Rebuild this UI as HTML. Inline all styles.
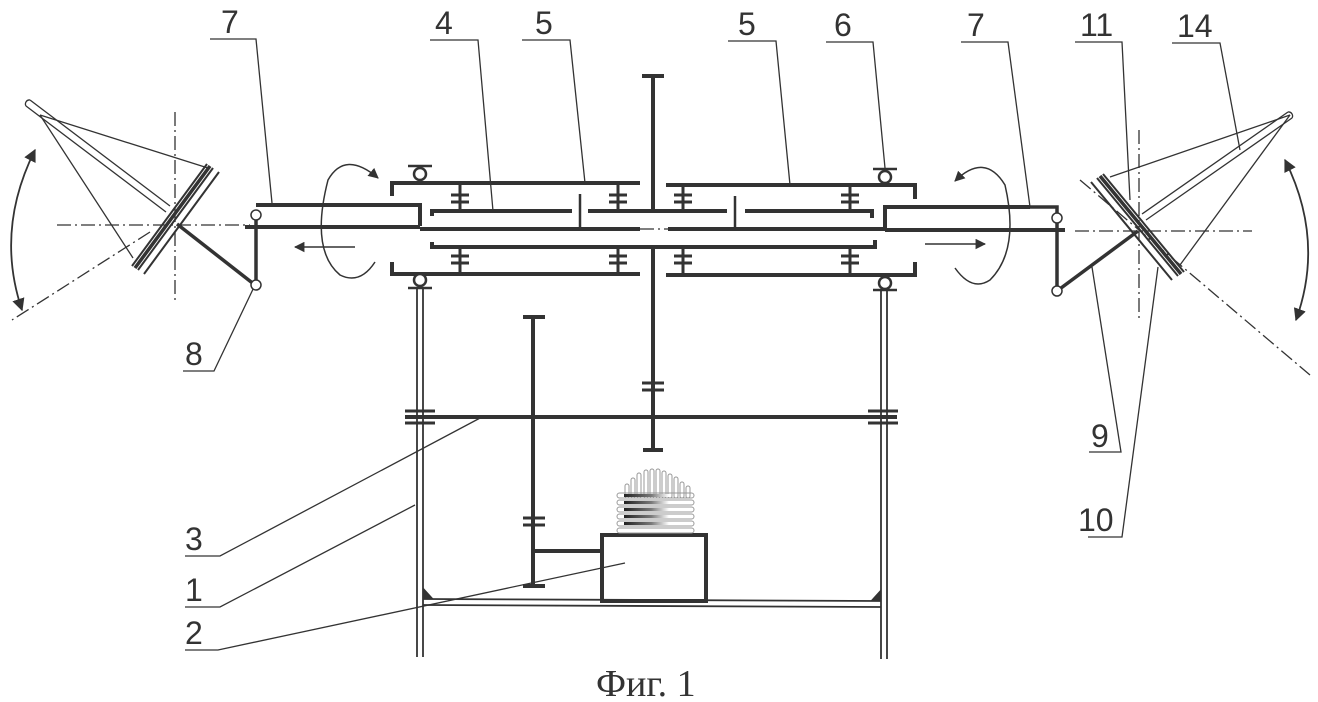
<!DOCTYPE html>
<html><head><meta charset="utf-8"><style>
html,body{margin:0;padding:0;background:#fff;}
svg{display:block}
text{font-family:"Liberation Sans",sans-serif;fill:#333;font-size:32px}
</style></head><body>
<svg width="1318" height="702" viewBox="0 0 1318 702" xmlns="http://www.w3.org/2000/svg">
<defs>
<marker id="ah" viewBox="0 0 10 10" refX="9" refY="5" markerWidth="7" markerHeight="7" orient="auto-start-reverse"><path d="M0,0 L10,5 L0,10 z" fill="#333"/></marker>
<linearGradient id="hg" x1="0" x2="1" y1="0" y2="0"><stop offset="0" stop-color="#222"/><stop offset="0.6" stop-color="#777"/><stop offset="1" stop-color="#fff"/></linearGradient>
</defs>
<g stroke="#333" fill="none">
<g stroke-width="1.3">
<polyline points="210,39 256,39 272,203"/>
<polyline points="430,40 478,40 493,211"/>
<polyline points="522,40 570,40 585,183"/>
<polyline points="728,41 776,41 790,185"/>
<polyline points="826,42 873,42 885,168"/>
<polyline points="961,42 1008,42 1030,207"/>
<polyline points="1075,42 1122,42 1130,200"/>
<polyline points="1172,43 1220,43 1240,150"/>
<polyline points="1089,452 1121,452 1092,267"/>
<polyline points="1088,537 1122,537 1158,267"/>
<polyline points="183,371 214,371 255,285"/>
<polyline points="185,556 220,556 482,417"/>
<polyline points="185,607 220,607 415,505"/>
<polyline points="185,650 218,650 625,563"/>
</g>
<g stroke-width="1.3" stroke-dasharray="14,4,2,4">
<line x1="57" y1="225" x2="250" y2="225"/>
<line x1="175" y1="112" x2="175" y2="302"/>
<line x1="150" y1="232" x2="12" y2="320"/>
<line x1="1075" y1="231" x2="1252" y2="231"/>
<line x1="1139" y1="130" x2="1139" y2="322"/>
<line x1="1080" y1="180" x2="1310" y2="375"/>
<line x1="640" y1="229" x2="668" y2="229"/>
</g>
<!-- left wing -->
<g stroke-width="1.3">
<line x1="40" y1="115" x2="208" y2="168"/>
<line x1="40" y1="115" x2="133" y2="258"/>
<path d="M30,100 L170,206 M26,106 L166,212 M30,100 A4,4 0 0 0 26,106"/>
</g>
<g stroke-width="2">
<line x1="213" y1="168" x2="138" y2="270"/>
<line x1="207" y1="164" x2="132" y2="266"/>
<line x1="219" y1="172" x2="144" y2="274"/>
</g>
<line x1="210" y1="166" x2="135" y2="268" stroke-width="3.5"/>
<line x1="177" y1="224" x2="255" y2="285" stroke-width="3.5"/>
<line x1="256" y1="215" x2="256" y2="285" stroke-width="3.5"/>
<circle cx="256" cy="215" r="5" fill="#fff" stroke-width="1.5"/>
<circle cx="256" cy="285" r="5" fill="#fff" stroke-width="1.5"/>
<path d="M35,150 Q-5,230 22,310" stroke-width="1.8" marker-start="url(#ah)" marker-end="url(#ah)"/>
<!-- right wing -->
<g stroke-width="1.3">
<line x1="1290" y1="115" x2="1110" y2="177"/>
<line x1="1290" y1="115" x2="1180" y2="265"/>
<path d="M1292,118 L1146,220 M1288,112 L1142,214 M1288,112 A4,4 0 0 1 1292,118"/>
</g>
<g stroke-width="2">
<line x1="1097" y1="178" x2="1178" y2="276"/>
<line x1="1103" y1="174" x2="1184" y2="272"/>
<line x1="1091" y1="182" x2="1172" y2="280"/>
</g>
<line x1="1100" y1="176" x2="1181" y2="274" stroke-width="3.5"/>
<line x1="1138" y1="231" x2="1057" y2="291" stroke-width="3.5"/>
<line x1="1057" y1="218" x2="1057" y2="291" stroke-width="3.5"/>
<polyline points="1030,207 1057,207 1057,218" stroke-width="3.5"/>
<circle cx="1057" cy="218" r="5" fill="#fff" stroke-width="1.5"/>
<circle cx="1057" cy="291" r="5" fill="#fff" stroke-width="1.5"/>
<path d="M1285,160 Q1325,240 1296,320" stroke-width="1.8" marker-start="url(#ah)" marker-end="url(#ah)"/>
<!-- rotation arrows -->
<path d="M378,178 Q345,150 328,180 Q310,250 340,275 Q360,285 375,262" stroke-width="1.5" marker-start="url(#ah)"/>
<line x1="355" y1="247" x2="295" y2="247" stroke-width="1.5" marker-end="url(#ah)"/>
<path d="M955,181 Q985,152 1005,185 Q1020,250 990,280 Q972,292 955,268" stroke-width="1.5" marker-start="url(#ah)"/>
<line x1="925" y1="244" x2="985" y2="244" stroke-width="1.5" marker-end="url(#ah)"/>
<!-- main mechanism -->
<g stroke-width="4">
<polyline points="256,205 420,205 420,226"/>
<line x1="245" y1="227" x2="420" y2="227"/>
<line x1="420" y1="229" x2="640" y2="229"/>
<line x1="668" y1="229" x2="885" y2="229"/>
<polyline points="885,230 885,207 1030,207"/>
<line x1="885" y1="230" x2="1065" y2="230"/>
<polyline points="392,196 392,183 640,183"/>
<polyline points="666,185 915,185 915,199"/>
<polyline points="392,262 392,274 640,274"/>
<polyline points="666,275 915,275 915,262"/>
<polyline points="432,216 432,211 572,211"/>
<line x1="588" y1="211" x2="727" y2="211"/>
<polyline points="745,211 872,211 872,218"/>
<polyline points="432,242 432,247 875,247 875,240"/>
<line x1="653" y1="76" x2="653" y2="211"/>
<line x1="642" y1="76" x2="664" y2="76"/>
<line x1="653" y1="247" x2="653" y2="450"/>
<line x1="643" y1="450" x2="663" y2="450"/>
<line x1="405" y1="417" x2="897" y2="417"/>
<line x1="533" y1="317" x2="533" y2="586"/>
<line x1="523" y1="317" x2="545" y2="317"/>
<line x1="523" y1="586" x2="545" y2="586"/>
<line x1="533" y1="551" x2="600" y2="551"/>
<rect x="602" y="535" width="104" height="66"/>
</g>
<g stroke-width="2.5">
<line x1="580" y1="194" x2="580" y2="228"/>
<line x1="735" y1="196" x2="735" y2="228"/>
</g>
<g stroke-width="3">
<path d="M460,183v28M451,195h18M451,202h18"/>
<path d="M618,183v28M609,195h18M609,202h18"/>
<path d="M683,185v26M674,195h18M674,202h18"/>
<path d="M850,185v26M841,195h18M841,202h18"/>
<path d="M460,247v27M451,256h18M451,263h18"/>
<path d="M618,247v27M609,256h18M609,263h18"/>
<path d="M683,247v28M674,256h18M674,263h18"/>
<path d="M850,247v28M841,256h18M841,263h18"/>
<path d="M642,383h22M642,390h22"/>
<path d="M523,518h22M523,525h22"/>
<path d="M405,411h30M405,423h30"/>
<path d="M868,411h30M868,423h30"/>
</g>
<g stroke-width="2.5">
<path d="M408,166h24"/><circle cx="420" cy="174" r="6" fill="#fff"/>
<path d="M873,169h24"/><circle cx="885" cy="177" r="6" fill="#fff"/>
<path d="M408,288h24"/><circle cx="420" cy="280" r="6" fill="#fff"/>
<path d="M873,290h24"/><circle cx="885" cy="283" r="6" fill="#fff"/>
</g>
<g stroke-width="1.8">
<line x1="417" y1="287" x2="417" y2="657"/>
<line x1="423" y1="287" x2="423" y2="657"/>
<line x1="881" y1="289" x2="881" y2="659"/>
<line x1="887" y1="289" x2="887" y2="659"/>
<line x1="423" y1="599" x2="881" y2="601"/>
<line x1="423" y1="605" x2="881" y2="607"/>
</g>
<path d="M423,588 L433,599 L423,599z M881,590 L871,601 L881,601z" fill="#333"/>
<!-- heatsink -->
<g stroke="#999" stroke-width="1">
<rect x="625" y="484" width="4" height="14" rx="2"/>
<rect x="631" y="478" width="4" height="20" rx="2"/>
<rect x="637" y="473" width="4" height="25" rx="2"/>
<rect x="644" y="470" width="4" height="28" rx="2"/>
<rect x="650" y="469" width="4" height="29" rx="2"/>
<rect x="656" y="469" width="4" height="29" rx="2"/>
<rect x="662" y="471" width="4" height="27" rx="2"/>
<rect x="668" y="474" width="4" height="24" rx="2"/>
<rect x="674" y="477" width="4" height="21" rx="2"/>
<rect x="680" y="482" width="4" height="16" rx="2"/>
<rect x="686" y="486" width="4" height="12" rx="2"/>
<rect x="617" y="493" width="77" height="5" rx="2.5"/>
<rect x="617" y="500" width="77" height="5" rx="2.5"/>
<rect x="617" y="507" width="77" height="5" rx="2.5"/>
<rect x="617" y="514" width="77" height="5" rx="2.5"/>
<rect x="617" y="521" width="77" height="5" rx="2.5"/>
<rect x="617" y="528" width="77" height="5" rx="2.5"/>
</g>
<g stroke="none" fill="url(#hg)">
<rect x="624" y="494" width="45" height="3"/>
<rect x="624" y="501" width="45" height="3"/>
<rect x="624" y="508" width="45" height="3"/>
<rect x="624" y="515" width="45" height="3"/>
<rect x="624" y="522" width="45" height="3"/>
</g>
</g>
<text x="221" y="33">7</text>
<text x="435" y="34">4</text>
<text x="535" y="34">5</text>
<text x="738" y="35">5</text>
<text x="834" y="36">6</text>
<text x="967" y="36">7</text>
<text x="1080" y="36">11</text>
<text x="1177" y="37">14</text>
<text x="185" y="365">8</text>
<text x="185" y="550">3</text>
<text x="185" y="601">1</text>
<text x="185" y="644">2</text>
<text x="1091" y="447">9</text>
<text x="1078" y="531">10</text>
<text x="596" y="696" style="font-family:'Liberation Serif',serif;font-size:38px">Фиг. 1</text>
</svg>
</body></html>
